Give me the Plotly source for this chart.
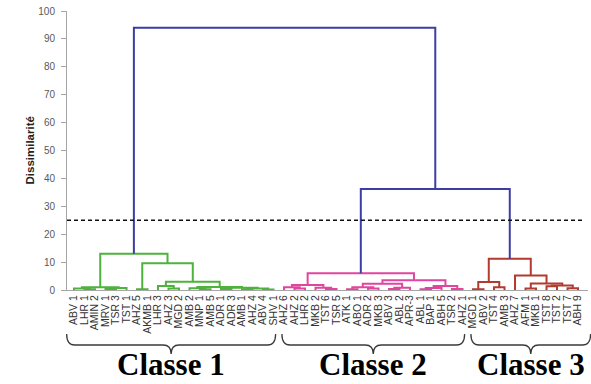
import plotly.graph_objects as go

# Leaf labels in dendrogram order
leaf_labels = [
    "ABV 1", "LHR 1", "AMIN 2", "MRV 1", "TSR 3", "TST 1", "AHZ 5", "AKMB 1", "LHR 3", "AHZ 3",
    "MGD 2", "AMB 2", "MNP 1", "AMB 5", "ADR 1", "ADR 3", "AMB 1", "AHZ 4", "ABV 4", "SHV 1",
    "AHZ 6", "AHZ 2", "LHR 2", "MKB 2", "TST 6", "TSR 5", "ATK 1", "ABO 1", "ADR 2", "MKB 3",
    "ABV 3", "ABL 2", "APR-3", "ABL 1", "BAP 1", "ABH 5", "TSR 2", "AHZ 1",
    "MGD 1", "ABV 2", "TST 4", "AMB 3", "AHZ 7", "AFM 1", "MKB 1", "TST 8", "TST 2", "TST 7", "ABH 9",
]

# Linkage of each class: [left, right, dissimilarity]; ints are leaf indices
class1_tree = [[[0, [1, 2, 0.3], 0.5], [[3, 4, 0.4], 5, 0.7], 1.0],
               [[6, 7, 0.3],
                [[8, [9, 10, 0.5], 1.4],
                 [[11, [12, 13, 0.3], 0.6],
                  [[14, 15, 0.4], [[16, 17, 0.3], [18, 19, 0.2], 0.5], 0.8], 1.1],
                 3.0],
                9.6],
               13.0]
class2_tree = [[[20, [21, 22, 0.5], 1.0], [23, [24, 25, 0.4], 0.8], 1.8],
               [[[[26, 27, 0.3], [28, 29, 0.5], 1.0], [[30, 31, 0.4], 32, 0.8], 2.2],
                [[[33, 34, 0.3], 35, 0.7], [36, 37, 0.4], 1.4], 3.5],
               6.0]
class3_tree = [[[38, 39, 0.3], [40, 41, 1.0], 2.9],
               [42, [[43, 44, 0.5], [[45, 46, 1.3], [47, 48, 0.6], 1.6], 2.3], 5.2],
               11.2]

merge_23_height = 36.2   # class 2 joined with class 3
merge_all_height = 94.0  # class 1 joined with the rest
cut_level = 25.0

class_names = ["Classe 1", "Classe 2", "Classe 3"]
class_sizes = [20, 18, 11]
class_colors = ["#4EB33C", "#E0469E", "#B23A2F"]
link_color = "#3D3DA6"
y_ticks = list(range(0, 101, 10))


def walk(node, segs):
    """Return (x, height) of a node and append its bracket to segs."""
    if isinstance(node, int):
        return float(node), 0.0
    left, right, h = node
    xl, hl = walk(left, segs)
    xr, hr = walk(right, segs)
    segs.append([(xl, hl), (xl, h), (xr, h), (xr, hr)])
    return (xl + xr) / 2.0, h


def bracket(a, b, h, segs):
    segs.append([(a[0], a[1]), (a[0], h), (b[0], h), (b[0], b[1])])
    return (a[0] + b[0]) / 2.0, h


def to_xy(segs):
    xs, ys = [], []
    for s in segs:
        for x, y in s:
            xs.append(x)
            ys.append(y)
        xs.append(None)
        ys.append(None)
    return xs, ys


fig = go.Figure()

roots = []
for tree, color in zip([class1_tree, class2_tree, class3_tree], class_colors):
    segs = []
    roots.append(walk(tree, segs))
    xs, ys = to_xy(segs)
    fig.add_trace(go.Scatter(x=xs, y=ys, mode="lines", line=dict(color=color, width=2),
                             hoverinfo="skip", showlegend=False))

upper = []
r23 = bracket(roots[1], roots[2], merge_23_height, upper)
bracket(roots[0], r23, merge_all_height, upper)
xs, ys = to_xy(upper)
fig.add_trace(go.Scatter(x=xs, y=ys, mode="lines", line=dict(color=link_color, width=2),
                         hoverinfo="skip", showlegend=False))

n = len(leaf_labels)
x_range = [-0.667, 48.95]

# truncation line
fig.add_shape(type="line", xref="paper", yref="y", x0=0, x1=0.994, y0=cut_level, y1=cut_level,
              line=dict(color="#111111", width=1.6, dash="4px,3px"))

# braces under each class
H_PLOT = 279.0


def px_to_paper_y(py):
    return (290.0 - py) / H_PLOT


def data_to_paper_x(x):
    return (x - x_range[0]) / (x_range[1] - x_range[0])


start = 0
y_top, y_mid, y_tip = px_to_paper_y(334), px_to_paper_y(345), px_to_paper_y(354)
r = 8.0 / 521.0
for name, size in zip(class_names, class_sizes):
    xa = data_to_paper_x(start - 0.7 if start == 0 else start - 0.2)
    xb = data_to_paper_x(start + size - 1 + 0.2 if start + size < n else start + size - 1 + 1.2)
    xm = (xa + xb) / 2.0
    path = (f"M {xa},{y_top} Q {xa},{y_mid} {xa + r},{y_mid} L {xm - r},{y_mid} "
            f"Q {xm},{y_mid} {xm},{y_tip} Q {xm},{y_mid} {xm + r},{y_mid} "
            f"L {xb - r},{y_mid} Q {xb},{y_mid} {xb},{y_top}")
    fig.add_shape(type="path", xref="paper", yref="paper", path=path,
                  line=dict(color="#3a3a3a", width=1.3))
    fig.add_annotation(x=xm, y=px_to_paper_y(364), xref="paper", yref="paper",
                       text=f"<b>{name}</b>", showarrow=False, xanchor="center", yanchor="middle",
                       font=dict(family="Liberation Serif", size=31, color="#000000"))
    start += size

fig.add_annotation(x=(21 - 67) / 521.0, y=0.5, xref="paper", yref="paper",
                   text="<b>Dissimilarité</b>", textangle=-90, showarrow=False,
                   font=dict(family="Liberation Sans", size=11.5, color="#222222"))

fig.update_xaxes(range=x_range, tickmode="array", tickvals=list(range(n)), ticktext=leaf_labels,
                 tickangle=-90, tickfont=dict(family="Liberation Sans", size=10.5, color="#333333"),
                 showline=True, linecolor="#a6a6a6", linewidth=1, showgrid=False, zeroline=False,
                 ticks="", fixedrange=True)
fig.update_yaxes(range=[0, 100], tickmode="array", tickvals=y_ticks, ticks="outside", ticklen=5,
                 tickcolor="#a6a6a6", ticklabelstandoff=4,
                 tickfont=dict(family="Liberation Sans", size=10, color="#595959"),
                 showline=True, linecolor="#a6a6a6", linewidth=1, showgrid=False, zeroline=False)

fig.update_layout(width=591, height=384, margin=dict(l=67, r=3, t=11, b=94),
                  paper_bgcolor="white", plot_bgcolor="white")

fig.write_html("out.html")
